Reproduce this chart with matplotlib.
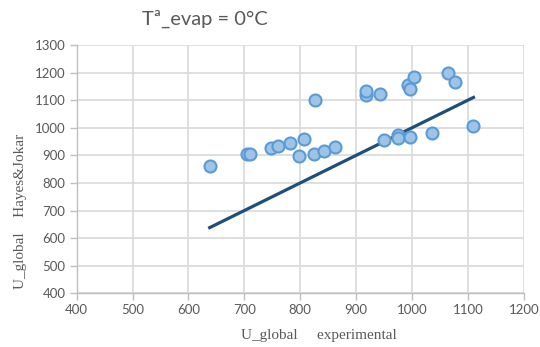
import matplotlib
matplotlib.use("Agg")
import matplotlib.pyplot as plt

# Overall heat transfer coefficient: experimental vs. Hayes & Jokar correlation
u_experimental = [638, 705, 711, 748, 760, 782, 807, 798, 825, 842, 862,
                  826, 917, 917, 943, 993, 1003, 997, 1065, 1077,
                  950, 975, 975, 997, 1035, 1110]
u_hayes_jokar = [862, 905, 905, 925, 935, 945, 958, 898, 905, 915, 930,
                 1102, 1120, 1133, 1122, 1155, 1183, 1140, 1200, 1165,
                 955, 972, 962, 968, 982, 1008]

x_ticks = [400, 500, 600, 700, 800, 900, 1000, 1100, 1200]
y_ticks = [400, 500, 600, 700, 800, 900, 1000, 1100, 1200, 1300]

fig = plt.figure(figsize=(5.4, 3.47), dpi=100)
ax = fig.add_axes([0.142, 0.1548, 0.828, 0.7155])

grid_c = "#D9D9D9"
text_c = "#595959"

ax.scatter(u_experimental, u_hayes_jokar, s=75, facecolor="#9DC3E6",
           edgecolor="#5B9BD5", linewidth=1.5, zorder=3)

# y = x reference line over the data range
lo, hi = min(u_experimental), max(u_experimental)
ax.plot([lo, hi], [lo, hi], color="#1F4E79", linewidth=2.3, zorder=2)

ax.set_xlim(400, 1200)
ax.set_ylim(400, 1300)
ax.set_xticks(x_ticks)
ax.set_yticks(y_ticks)
ax.grid(True, color=grid_c, linewidth=1.2, zorder=0)
ax.set_axisbelow(True)

for side in ("top", "right"):
    ax.spines[side].set_visible(False)
for side in ("left", "bottom"):
    ax.spines[side].set_color("#BFBFBF")
    ax.spines[side].set_linewidth(1.0)

ax.tick_params(axis="both", direction="out", length=5, width=1.0,
               color="#BFBFBF", labelcolor=text_c, labelsize=9.5, pad=3)
for lab in ax.get_xticklabels() + ax.get_yticklabels():
    lab.set_family("Lato")

ax.set_xlabel("U_global     experimental", family="Liberation Serif",
              fontsize=11, color=text_c)
ax.xaxis.set_label_coords(0.542, -0.145)
ax.set_ylabel("U_global" + " " * 4 + "Hayes&Jokar", family="Liberation Serif",
              fontsize=11, color=text_c)
ax.yaxis.set_label_coords(-0.112, 0.33)

fig.text(0.38, 0.945, "Tª_evap = 0°C", ha="center", va="center",
         family="Lato", fontsize=14.5, color=text_c)

fig.savefig("out.png", dpi=100)
